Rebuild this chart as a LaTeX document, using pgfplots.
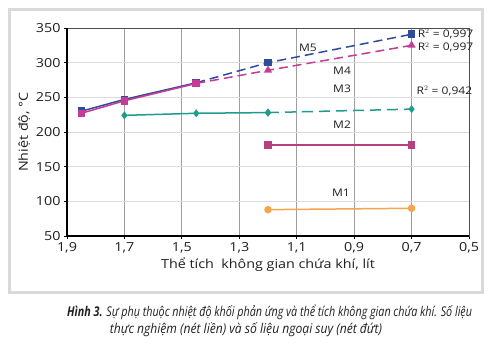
\documentclass[border=0pt]{standalone}
\usepackage{pgfplots}
\pgfplotsset{compat=1.18}
\usepackage{fontspec}
\setmainfont[FakeStretch=1.15]{Open Sans}
\newfontfamily\capfont[FakeStretch=0.9]{Open Sans}
\newfontfamily\capfontn[FakeStretch=0.8]{Open Sans}
\definecolor{cM5}{HTML}{2F4C9C}
\definecolor{cM4}{HTML}{C63B95}
\definecolor{cM3}{HTML}{1F9C8E}
\definecolor{cM2}{HTML}{B5407F}
\definecolor{cM1}{HTML}{F4A54E}
\definecolor{frame}{HTML}{D9D9D9}
\definecolor{txt}{HTML}{231F20}
\begin{document}
\begin{tikzpicture}[x=1bp,y=1bp]
\path[use as bounding box,fill=white] (0,0) rectangle (493,352);
\draw[frame,line width=3bp] (9.5,342.5) rectangle (482.5,59.5);
\begin{axis}[
  at={(67bp,116bp)}, anchor=south west,
  width=402bp, height=208bp, scale only axis,
  x dir=reverse,
  xmin=0.5, xmax=1.9, ymin=50, ymax=350,
  xtick={0.5,0.7,0.9,1.1,1.3,1.5,1.7,1.9},
  ytick={50,100,150,200,250,300,350},
  xticklabel style={/pgf/number format/.cd,fixed,fixed zerofill,precision=1,use comma},
  /pgf/number format/assume math mode=true,
  tick label style={font=\fontsize{12.5}{14}\selectfont, text=txt},
  tick align=outside, xtick pos=bottom, ytick pos=left,
  major tick length=3bp,
  tick style={black, line width=0.8bp},
  grid=major,
  major x grid style={draw=black!38, line width=0.8bp},
  major y grid style={draw=black!14, line width=0.8bp},
  axis line style={draw=black!70, line width=0.8bp},
  xlabel={Thể tích\ \ không gian chứa khí, lít},
  ylabel={Nhiệt độ, °C},
  label style={font=\fontsize{12.5}{14}\selectfont, text=txt},
  xlabel style={yshift=2bp},
  ylabel style={yshift=-1bp},
  clip=false,
]
% M5
\addplot[cM5, line width=1.5bp, mark=square*, mark size=3bp] coordinates {(1.85,230) (1.70,247) (1.45,271)};
\addplot[cM5, line width=1.5bp, dash pattern=on 9bp off 5bp, mark=square*, mark size=3bp, mark options={solid}] coordinates {(1.45,271) (1.20,300) (0.70,341)};
% M4
\addplot[cM4, line width=1.5bp, mark=square*, mark size=3bp] coordinates {(1.85,227) (1.70,245) (1.45,270)};
\addplot[cM4, line width=1.5bp, dash pattern=on 9bp off 5bp, mark=triangle*, mark size=3.3bp, mark options={solid}] coordinates {(1.45,270) (1.20,289) (0.70,325)};
% M3
\addplot[cM3, line width=1.5bp, mark=diamond*, mark size=2.8bp] coordinates {(1.70,224) (1.45,227) (1.20,228)};
\addplot[cM3, line width=1.5bp, dash pattern=on 11bp off 6bp, mark=diamond*, mark size=2.8bp, mark options={solid}] coordinates {(1.20,228) (0.70,233)};
% M2
\addplot[cM2, line width=1.5bp, mark=square*, mark size=3bp] coordinates {(1.20,181) (0.70,181)};
% M1
\addplot[cM1, line width=1.5bp, mark=*, mark size=3bp] coordinates {(1.20,88) (0.70,90)};
% labels
\begin{scope}[every node/.style={font=\fontsize{10.5}{12}\selectfont, text=txt, inner sep=0pt}]
\node at (axis cs:1.061,322) {M5};
\node at (axis cs:0.942,288) {M4};
\node at (axis cs:0.942,262) {M3};
\node at (axis cs:0.942,210) {M2};
\node at (axis cs:0.946,112) {M1};
\node[anchor=west] at (axis cs:0.679,342) {R$^2$ = 0,997};
\node[anchor=west] at (axis cs:0.679,322) {R$^2$ = 0,997};
\node[anchor=west] at (axis cs:0.683,259) {R$^2$ = 0,942};
\end{scope}
\end{axis}
\draw[black, line width=1.5bp] (67,116) -- (469,116);
\draw[black, line width=1.5bp] (67,116) -- (67,324);
\node[text=txt, inner sep=0pt, anchor=west, font=\capfontn\fontsize{13.5}{15}\selectfont] at (67,40) {\textbf{\textit{Hình 3.}} \textit{Sự phụ thuộc nhiệt độ khối phản ứng và thể tích không gian chứa khí. Số liệu}};
\node[text=txt, inner sep=0pt, font=\capfont\fontsize{13.5}{15}\selectfont] at (246,22) {\textit{thực nghiệm (nét liền) và số liệu ngoại suy (nét đứt)}};
\end{tikzpicture}
\end{document}
